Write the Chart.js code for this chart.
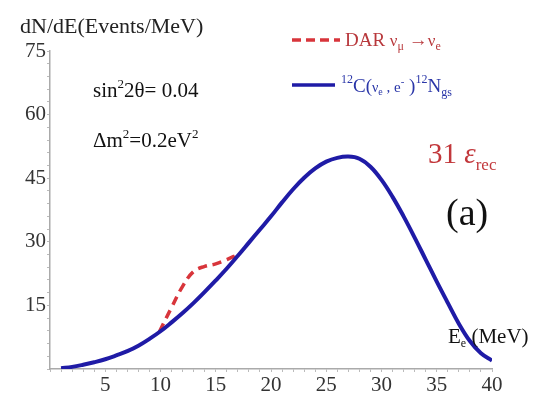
<!DOCTYPE html>
<html lang="en">
<head>
<meta charset="UTF-8">
<title>dN/dE spectrum</title>
<script src="https://cdn.jsdelivr.net/npm/chart.js@4.4.0/dist/chart.umd.min.js"></script>
<style>
  body { margin: 0; background: #fff; }
  #wrap { width: 539px; height: 404px; }
</style>
</head>
<body>
<div id="wrap"><canvas id="spectrum"></canvas></div>
<script>
// 12C(nu_e, e-)12N_gs spectrum, events per MeV
const energyN = [1, 2, 3, 4, 5, 6, 7, 8, 9, 10, 11, 12, 13, 14, 15, 16, 17, 18, 19, 20,
                 21, 22, 23, 24, 25, 26, 27, 28, 29, 30, 31, 32, 33, 34, 35, 36, 37, 38, 39, 40];
const eventsN = [0.2, 0.5, 1.0, 1.6, 2.3, 3.2, 4.2, 5.5, 7.1, 8.9, 11.0, 13.2, 15.6, 18.2, 20.9, 23.7, 26.7, 29.8, 32.9, 36.0,
                 39.3, 42.4, 45.1, 47.3, 48.9, 49.8, 50.1, 49.6, 47.7, 44.6, 40.6, 36.0, 31.0, 25.8, 20.6, 15.6, 10.7, 6.6, 3.7, 2.0];

// DAR nu_mu -> nu_e oscillation excess
const energyDar = [9.9, 11, 12, 13, 14, 15, 16, 17];
const eventsDar = [8.8, 14.5, 19.5, 23, 24.2, 24.8, 25.8, 27];

const xLabels = [5, 10, 15, 20, 25, 30, 35, 40];
const yLabels = [15, 30, 45, 60, 75];

const serif = '"Liberation Serif", "Times New Roman", serif';
const blue = '#1f1ba6';
const red = '#d8353b';

// draws a run of text pieces: [text, size, baseline shift, italic]
function rich(ctx, x, y, color, parts) {
  ctx.fillStyle = color;
  ctx.textBaseline = 'alphabetic';
  ctx.textAlign = 'left';
  parts.forEach(p => {
    ctx.font = (p[3] ? 'italic ' : '') + p[1] + 'px ' + serif;
    ctx.fillText(p[0], x, y + p[2]);
    x += ctx.measureText(p[0]).width;
  });
  return x;
}

const annotations = {
  id: 'annotations',
  afterDraw(chart) {
    const ctx = chart.ctx;
    ctx.save();

    rich(ctx, 20, 33, '#222', [['dN/dE(Events/MeV)', 22, 0]]);

    // legend
    ctx.lineWidth = 3.5;
    ctx.strokeStyle = red;
    ctx.setLineDash([9, 5]);
    ctx.beginPath(); ctx.moveTo(292, 40); ctx.lineTo(340, 40); ctx.stroke();
    ctx.setLineDash([]);
    ctx.strokeStyle = blue;
    ctx.beginPath(); ctx.moveTo(292, 85); ctx.lineTo(335, 85); ctx.stroke();

    rich(ctx, 345, 46, '#b8383c', [
      ['DAR ', 19, 0], ['\u03bd', 17, 0], ['\u03bc', 12, 4], [' \u2192', 19, 0], ['\u03bd', 17, 0], ['e', 12, 4]
    ]);
    rich(ctx, 341, 92, '#2a36a8', [
      ['12', 12, -9], ['C(', 19, 0], ['\u03bd', 14, 0], ['e', 10, 3], [' , e', 15, 0], ['-', 11, -7],
      [' )', 19, 0], ['12', 12, -9], ['N', 19, 0], ['gs', 12, 4]
    ]);

    rich(ctx, 93, 97, '#111', [['sin', 21, 0], ['2', 13, -9], ['2\u03b8= 0.04', 21, 0]]);
    rich(ctx, 93, 147, '#111', [['\u0394m', 21, 0], ['2', 13, -9], ['=0.2eV', 21, 0], ['2', 13, -9]]);

    rich(ctx, 428, 163, '#c2373b', [['31 ', 29, 0], ['\u03b5', 29, 0, true], ['rec', 17, 7]]);
    rich(ctx, 446, 225, '#111', [['(a)', 38, 0]]);
    rich(ctx, 448, 343, '#111', [['E', 21, 0], ['e', 12, 4], [' (MeV)', 21, 0]]);

    ctx.restore();
  }
};

new Chart('spectrum', {
  type: 'line',
  data: {
    datasets: [
      {
        data: energyN.map((e, i) => ({ x: e, y: eventsN[i] })),
        borderColor: blue,
        borderWidth: 4,
        pointRadius: 0,
        tension: 0.4
      },
      {
        data: energyDar.map((e, i) => ({ x: e, y: eventsDar[i] })),
        borderColor: red,
        borderWidth: 3.5,
        borderDash: [9, 6],
        pointRadius: 0,
        tension: 0.4
      }
    ]
  },
  options: {
    responsive: true,
    maintainAspectRatio: false,
    animation: false,
    layout: { padding: { top: 51, right: 47, left: 0, bottom: 0 } },
    plugins: { legend: { display: false }, tooltip: { enabled: false } },
    scales: {
      x: {
        type: 'linear', min: 0, max: 40,
        afterFit: s => { s.height = 35; },
        border: { color: '#aaa', width: 1.5 },
        grid: { drawOnChartArea: false, tickLength: 3, color: '#bbb' },
        ticks: {
          stepSize: 1, autoSkip: false, maxRotation: 0, padding: 1,
          color: '#333', font: { family: serif, size: 21 },
          callback: v => xLabels.includes(v) ? v : ''
        }
      },
      y: {
        min: 0, max: 75,
        afterFit: s => { s.width = 50; },
        border: { color: '#aaa', width: 1.5 },
        grid: { drawOnChartArea: false, tickLength: 3, color: '#bbb' },
        ticks: {
          stepSize: 3, autoSkip: false, padding: 1,
          color: '#333', font: { family: serif, size: 21 },
          callback: v => yLabels.includes(v) ? v : ''
        }
      }
    }
  },
  plugins: [annotations]
});
</script>
</body>
</html>
